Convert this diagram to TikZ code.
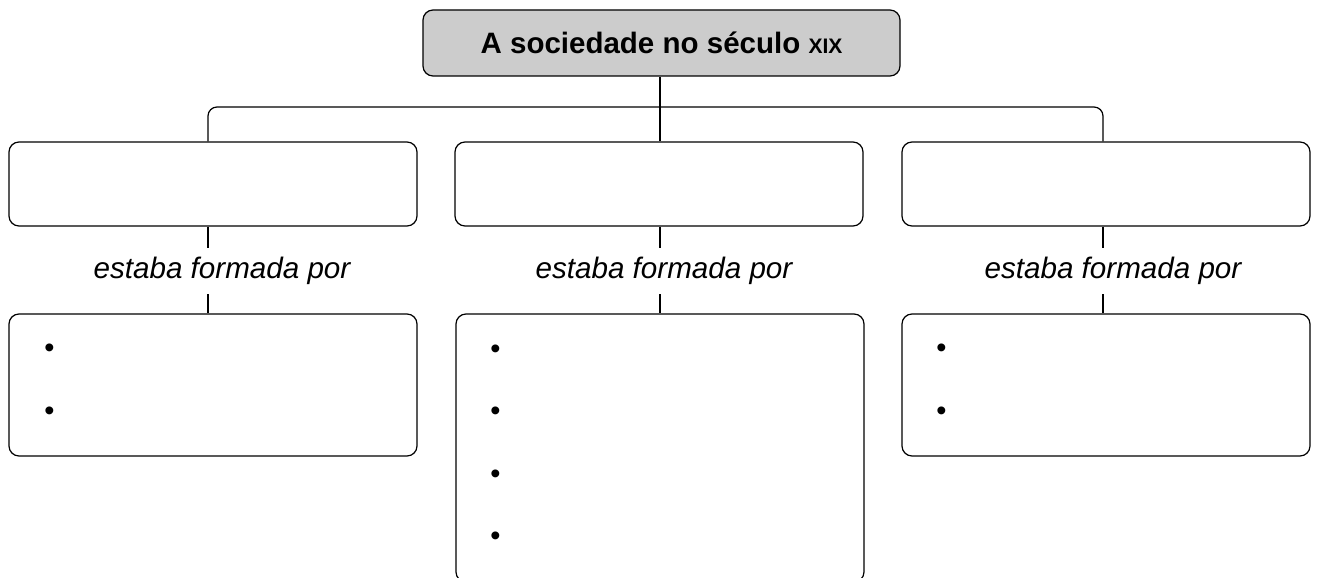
\documentclass[tikz,border=0pt]{standalone}
\usepackage{fontspec}
\setmainfont{Liberation Sans}
\tikzset{
	box/.style      = {shape=rectangle, rounded corners=10pt,
		draw, inner sep=0pt},
	rootbox/.style  = {box, fill=gray!40, minimum width=477pt, minimum height=66pt,
		font=\fontsize{29.5}{34}\selectfont\bfseries},
	catbox/.style   = {box, minimum width=408pt, minimum height=84pt},
	listbox/.style  = {box, minimum width=408pt},
	link/.style     = {minimum height=45pt, inner sep=0pt,
		font=\fontsize{29.6}{34}\selectfont\itshape},
	dot/.style      = {inner sep=0pt, font=\fontsize{29}{34}\selectfont}
}

\begin{document}
\begin{tikzpicture}
[
x          = 1pt,
y          = -1pt,
line width = 1.2pt
]
\clip (0,0) rectangle (1318,578);

% root
\node [rootbox] (soc) at (661.5,43) {A sociedade no século {\fontsize{21}{24}\selectfont XIX}};

% where the lines come down
\coordinate (c1) at (208,0);
\coordinate (c2) at (660,0);
\coordinate (c3) at (1103,0);

% first row
\node [catbox] (cat1) at (213,184) {};
\node [catbox] (cat2) at (659,184) {};
\node [catbox] (cat3) at (1106,184) {};

% the linking words
\node [link] (lbl1) at (222,271) {estaba formada por};
\node [link] (lbl2) at (664,271) {estaba formada por};
\node [link] (lbl3) at (1113,271) {estaba formada por};

% lists
\node [listbox, minimum height=142pt] (list1) at (213,385) {};
\node [listbox, minimum height=268pt] (list2) at (660,448) {};
\node [listbox, minimum height=142pt] (list3) at (1106,385) {};

\foreach \i in {0,1}
	\node [dot] at ([xshift=41pt, yshift={-37pt-63*\i pt}]list1.north west) {•};
\foreach \i in {0,...,3}
	\node [dot] at ([xshift=40pt, yshift={-38pt-62.5*\i pt}]list2.north west) {•};
\foreach \i in {0,1}
	\node [dot] at ([xshift=40pt, yshift={-37pt-63*\i pt}]list3.north west) {•};

% bracket
\draw (soc.south -| c2) -- (cat2.north -| c2);
\draw [rounded corners=9pt] (cat1.north -| c1) -- (208,107) -- (1103,107) -- (cat3.north -| c3);

% down to the lists
\foreach \n in {1,2,3} {
	\draw (cat\n.south -| c\n) -- (lbl\n.north -| c\n);
	\draw (lbl\n.south -| c\n) -- (list\n.north -| c\n);
}
\end{tikzpicture}
\end{document}
